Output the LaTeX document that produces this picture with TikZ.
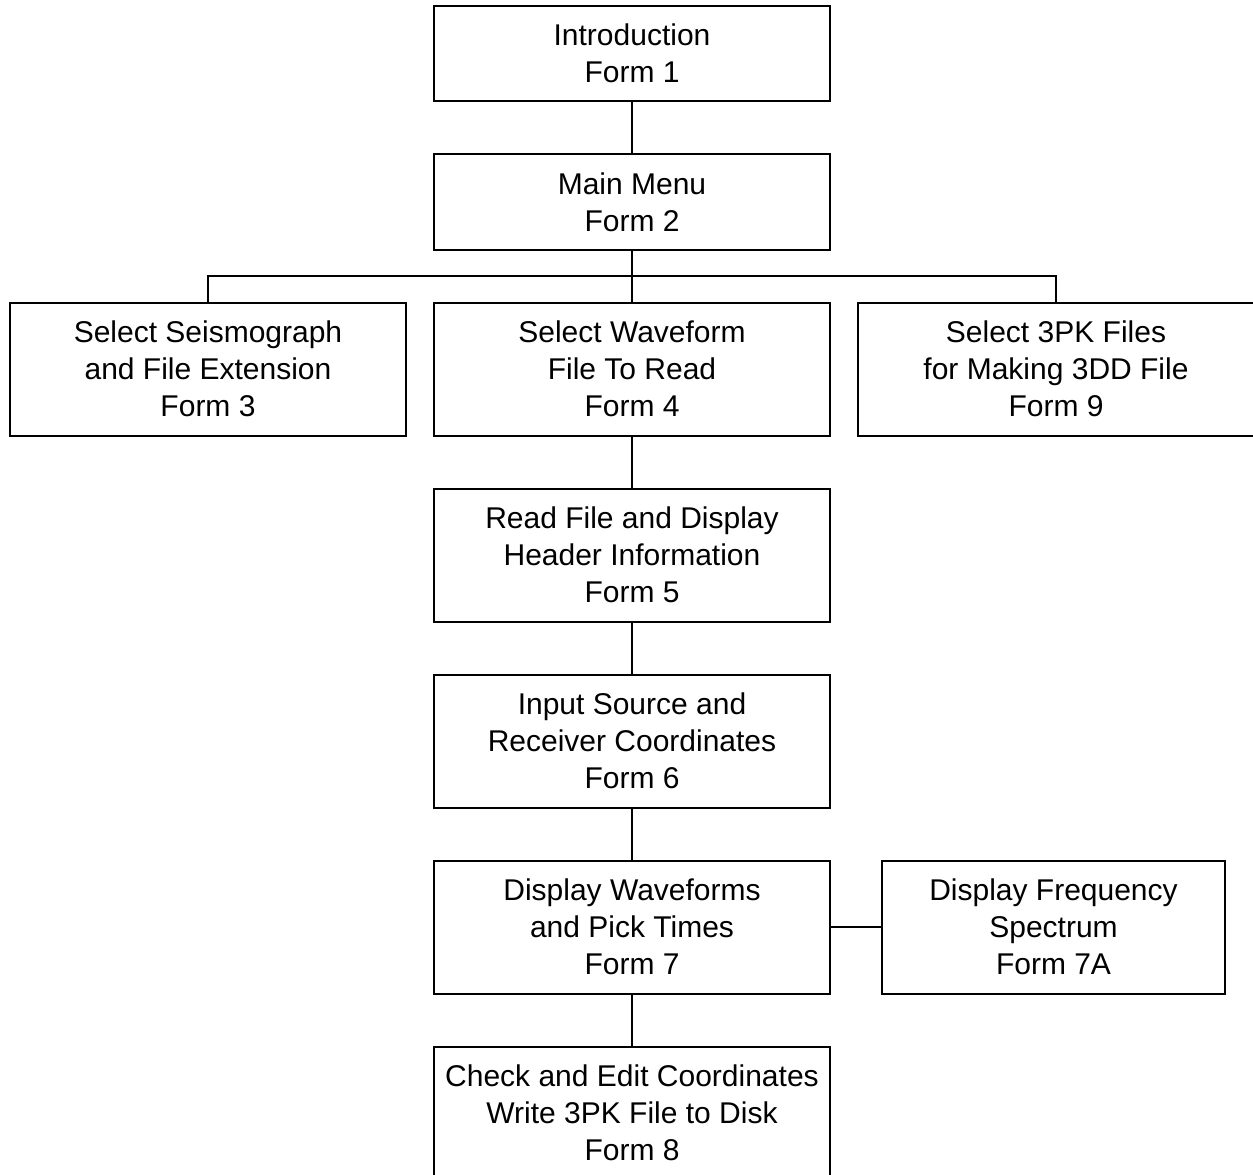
\documentclass[tikz,border=0pt]{standalone}
\usepackage{fontspec}
\setmainfont{Liberation Sans}
\usetikzlibrary{positioning,calc}

\begin{document}
\begin{tikzpicture}[x=1pt, y=1pt, line width=1.8pt,
    node distance=51.2pt,
    formbox/.style={draw, align=center, minimum width=396.5pt, minimum height=133pt,
        inner sep=0pt, font=\fontsize{30}{37}\selectfont},
    shortbox/.style={formbox, minimum height=95.5pt},
    ]
\useasboundingbox (0,0) rectangle (1253,-1175);

\node[shortbox] (f1) at (632,-53.5) {Introduction\\Form 1};
\node[shortbox, below=of f1] (f2) {Main Menu\\Form 2};
\node[formbox, below=of f2] (f4) {Select Waveform\\File To Read\\Form 4};
\node[formbox, left=25.7pt of f4] (f3) {Select Seismograph\\and File Extension\\Form 3};
\node[formbox, right=25.7pt of f4] (f9) {Select 3PK Files\\for Making 3DD File\\Form 9};
\node[formbox, below=of f4] (f5) {Read File and Display\\Header Information\\Form 5};
\node[formbox, below=of f5] (f6) {Input Source and\\Receiver Coordinates\\Form 6};
\node[formbox, below=of f6] (f7) {Display Waveforms\\and Pick Times\\Form 7};
\node[formbox, minimum width=343.5pt, right=49.7pt of f7] (f7a) {Display Frequency\\Spectrum\\Form 7A};
\node[formbox, below=of f7] (f8) {Check and Edit Coordinates\\Write 3PK File to Disk\\Form 8};

% tree connectors
\coordinate (split) at ($(f2.south)!0.5!(f4.north)$);
\draw (f1) -- (f2);
\draw (f2) -- (f4);
\draw (f3.north) |- (split) -| (f9.north);
\draw (f4) -- (f5);
\draw (f5) -- (f6);
\draw (f6) -- (f7);
\draw (f7) -- (f8);
\draw (f7) -- (f7a);

\end{tikzpicture}
\end{document}
